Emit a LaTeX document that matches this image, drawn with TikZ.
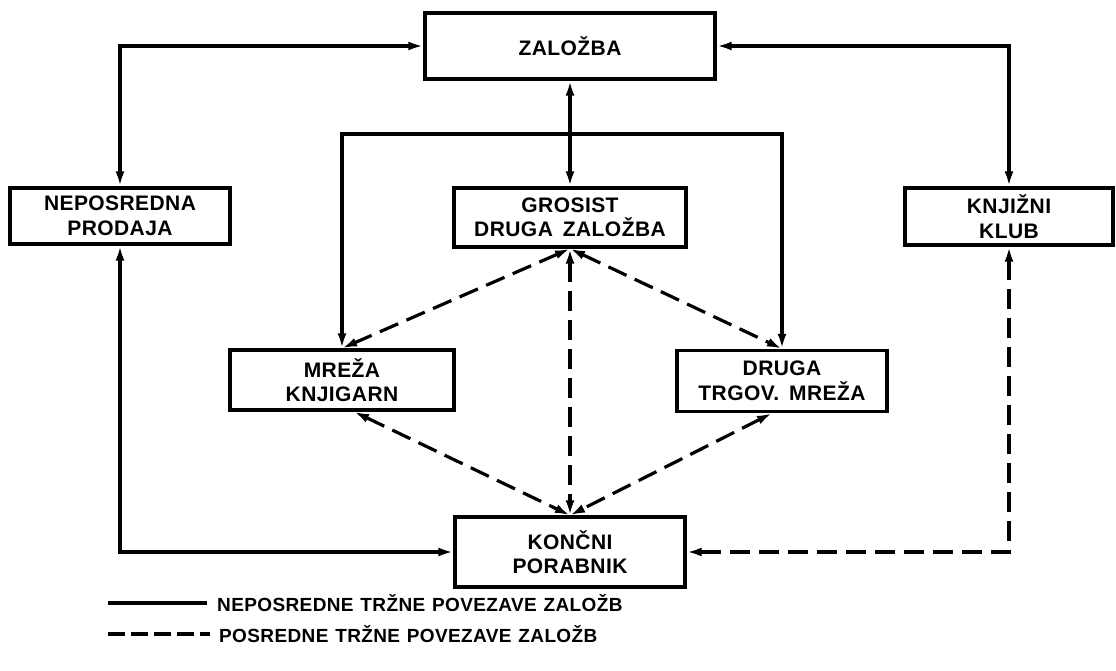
\documentclass[tikz,border=0pt]{standalone}
\usepackage{fontspec}
\setmainfont{Liberation Sans}[LetterSpace=2.0,WordSpace=1.6]
\newfontfamily\legfont{Liberation Sans}[LetterSpace=2.0,WordSpace=1.2]
\usetikzlibrary{arrows.meta}
\tikzset{
  box/.style={draw, line width=3.4pt, align=center, inner sep=0pt,
    font=\fontsize{21}{24.5}\selectfont\bfseries},
  tip/.tip={Latex[length=15pt,width=9pt]},
  link/.style={line width=3.2pt, tip-tip},
  plainlink/.style={line width=3.2pt},
  tolink/.style={line width=3.2pt, -tip},
  dlink/.style={link, dash pattern=on 20pt off 9pt},
  legtext/.style={anchor=west, inner sep=0pt, font=\legfont\fontsize{19}{22}\selectfont\bfseries}
}
\begin{document}
\begin{tikzpicture}[x=1pt,y=-1pt]
\useasboundingbox (0,0) rectangle (1116,671);
% boxes
\node[box, minimum width=290pt, minimum height=66pt] (zal) at (570,46) {ZALOŽBA};
\node[box, minimum width=220pt, minimum height=56pt] (nep) at (120,216) {NEPOSREDNA\\PRODAJA};
\node[box, minimum width=232pt, minimum height=59pt] (gro) at (570,217.5) {GROSIST\\DRUGA ZALOŽBA};
\node[box, minimum width=208pt, minimum height=57pt] (knj) at (1009,216.5) {KNJIŽNI\\KLUB};
\node[box, minimum width=224pt, minimum height=60pt] (mre) at (342,380) {MREŽA\\KNJIGARN};
\node[box, minimum width=210pt, minimum height=61pt] (dru) at (782,381) {DRUGA\\TRGOV. MREŽA};
\node[box, minimum width=230pt, minimum height=70pt] (kon) at (570,552) {KONČNI\\PORABNIK};
% solid links
\draw[link] (nep.north) |- (zal.west);
\draw[link] (zal.east) -| (knj.north);
\draw[link] (zal.south) -- (gro.north);
\coordinate (jn) at (570,134);
\draw[tolink] (jn) -| (mre.north);
\draw[tolink] (jn) -| (dru.north);
\draw[link] (nep.south) |- (kon.west);
% dashed links
\draw[dlink] (gro.south) -- (mre.north);
\draw[dlink] (gro.south) -- (dru.north);
\draw[dlink] (gro.south) -- (kon.north);
\draw[dlink] ([xshift=12pt]mre.south) -- (kon.north);
\draw[dlink] ([xshift=-10pt]dru.south) -- (kon.north);
\draw[dlink] (knj.south) |- (kon.east);
% legend
\coordinate (l1a) at (108,603);
\coordinate (l1b) at (207,603);
\coordinate (l2a) at (108,634);
\coordinate (l2b) at (210,634);
\draw[plainlink] (l1a) -- (l1b);
\draw[plainlink, dash pattern=on 17pt off 6pt] (l2a) -- (l2b);
\node[legtext] (t1) at (217,603) {NEPOSREDNE TRŽNE POVEZAVE ZALOŽB};
\node[legtext] (t2) at (219,634) {POSREDNE TRŽNE POVEZAVE ZALOŽB};
\end{tikzpicture}
\end{document}
